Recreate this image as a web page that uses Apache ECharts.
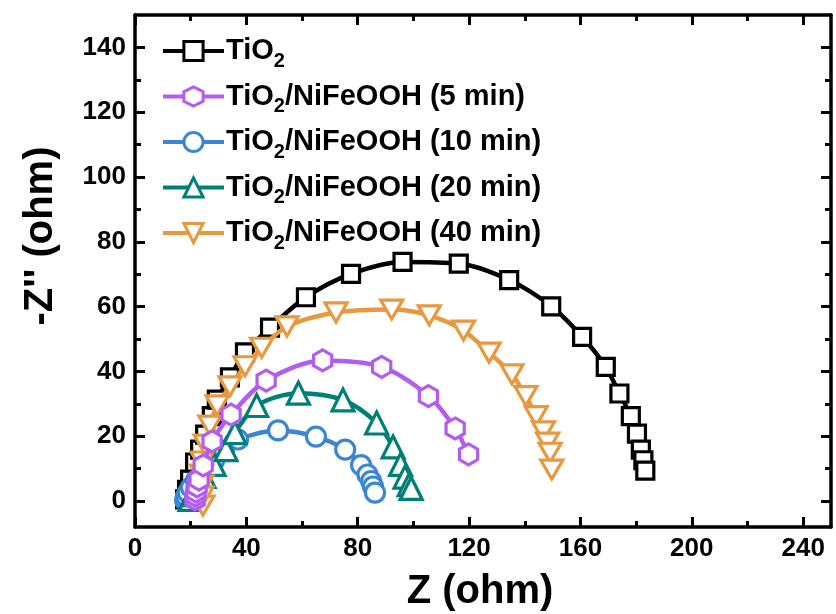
<!DOCTYPE html>
<html>
<head>
<meta charset="utf-8">
<script src="https://cdn.jsdelivr.net/npm/echarts@6/dist/echarts.min.js"></script>
<style>html,body{margin:0;padding:0;background:#fff}#c{width:836px;height:614px}</style>
</head>
<body>
<div id="c"></div>
<script>
const seriesNames = ['TiO2', 'TiO2/NiFeOOH (5 min)', 'TiO2/NiFeOOH (10 min)', 'TiO2/NiFeOOH (20 min)', 'TiO2/NiFeOOH (40 min)'];
const seriesColors = ['#000000', '#b35cf2', '#3a86d4', '#007f78', '#e8983e'];

const tio2 = [[18.0,0.5],[18.7,3.5],[19.8,6.6],[21.6,11.9],[23.4,15.9],[25.2,20.5],[27.6,26.2],[29.4,31.3],[34.1,38.2],[39.5,45.9],[48.5,53.5],[61.4,62.9],[77.6,70.1],[96.1,73.8],[116.3,73.3],[134.4,68.2],[149.5,60.1],[160.6,50.7],[169.1,41.4],[174.0,33.2],[178.1,26.2],[180.3,20.8],[181.7,15.9],[182.6,12.6],[183.3,9.4]];
const nife5 = [[21.6,0.5],[21.7,1.7],[21.9,2.9],[22.3,4.5],[23.0,6.6],[24.5,11.0],[27.7,18.4],[34.5,26.7],[47.1,37.2],[67.4,43.4],[88.6,41.4],[105.4,32.4],[115.0,22.4],[119.8,14.4]];
const nife10 = [[18.0,0.2],[18.3,1.4],[19.0,2.6],[20.1,4.2],[21.9,6.3],[24.8,9.4],[28.4,12.5],[32.0,15.6],[37.0,19.0],[51.4,21.8],[65.0,19.9],[75.5,15.9],[81.2,11.1],[83.5,8.2],[84.8,6.2],[85.5,4.5],[86.2,2.6]];
const nife20 = [[19.8,0.5],[20.8,2.0],[22.3,4.2],[24.8,7.6],[28.4,11.3],[32.7,15.9],[35.9,21.1],[43.7,29.5],[58.7,33.3],[74.7,31.2],[86.8,24.1],[92.7,16.7],[95.4,11.3],[97.0,7.4],[98.5,5.1],[99.2,3.9]];
const nife40 = [[24.4,-1.4],[24.1,1.4],[24.0,4.8],[23.9,8.2],[24.1,12.2],[25.2,17.4],[26.9,23.3],[29.5,29.5],[34.1,35.4],[39.5,41.6],[45.5,47.3],[54.6,53.9],[72.2,58.2],[92.2,59.1],[105.7,57.3],[118.0,52.6],[127.2,45.8],[135.4,39.1],[140.4,32.4],[144.1,26.2],[146.7,21.5],[148.2,18.0],[149.1,14.9],[149.7,9.7]];

const xMajor = [0, 40, 80, 120, 160, 200, 240];
const xMinor = [20, 60, 100, 140, 180, 220];
const yMajor = [0, 20, 40, 60, 80, 100, 120, 140];
const yMinor = [10, 30, 50, 70, 90, 110, 130];
const xTitle = 'Z (ohm)';
const yTitle = "-Z'' (ohm)";

const HEX = 'path://M0,-1 L0.866,-0.5 L0.866,0.5 L0,1 L-0.866,0.5 L-0.866,-0.5 Z';
const DTRI = 'path://M-1,-0.866 L1,-0.866 L0,0.866 Z';
const symbols = ['rect', HEX, 'circle', 'triangle', DTRI];
const symSizes = [17, 21, 19, 22, 22];
const datasets = [tio2, nife5, nife10, nife20, nife40];
const zOrder = [2, 6, 3, 4, 5];

const FONT = '"Liberation Sans", Arial, sans-serif';
const AX = {color: '#000', width: 3.5};

function xAx(pos, vals, len, showLabel, showLine) {
  return {
    type: 'value', position: pos, min: 0, max: 250, gridIndex: 0,
    axisLine: {show: showLine, onZero: false, lineStyle: AX},
    axisTick: {show: true, inside: true, length: len, lineStyle: {color: '#000', width: 3}, customValues: vals},
    axisLabel: {show: showLabel, customValues: vals, color: '#000', fontFamily: FONT, fontWeight: 'bold', fontSize: 26, margin: 9},
    splitLine: {show: false}
  };
}
function yAx(pos, vals, len, showLabel, showLine) {
  return {
    type: 'value', position: pos, min: -8, max: 150, gridIndex: 0,
    axisLine: {show: showLine, onZero: false, lineStyle: AX},
    axisTick: {show: true, inside: true, length: len, lineStyle: {color: '#000', width: 3}, customValues: vals},
    axisLabel: {show: showLabel, customValues: vals, color: '#000', fontFamily: FONT, fontWeight: 'bold', fontSize: 26, margin: 9},
    splitLine: {show: false}
  };
}

const chart = echarts.init(document.getElementById('c'), null, {renderer: 'canvas'});
chart.setOption({
  backgroundColor: '#fff',
  animation: false,
  grid: {left: 135, right: 5, top: 15, bottom: 87, containLabel: false},
  xAxis: [
    xAx('bottom', xMajor, 10, true, true),
    xAx('bottom', xMinor, 6, false, false),
    xAx('top', xMajor, 10, false, true),
    xAx('top', xMinor, 6, false, false)
  ],
  yAxis: [
    yAx('left', yMajor, 10, true, true),
    yAx('left', yMinor, 6, false, false),
    yAx('right', yMajor, 10, false, true),
    yAx('right', yMinor, 6, false, false)
  ],
  legend: {
    orient: 'vertical', left: 156, top: 26, itemGap: 5.5,
    itemWidth: 61, itemHeight: 24,
    data: seriesNames,
    lineStyle: {width: 4},
    itemStyle: {borderWidth: 3},
    formatter: n => n.replace('TiO2', 'TiO{s|2}'),
    textStyle: {
      color: '#000', fontFamily: FONT, fontWeight: 'bold', fontSize: 29, lineHeight: 40, padding: [0, 0, 0, -3],
      rich: {s: {color: '#000', fontFamily: FONT, fontWeight: 'bold', fontSize: 20, lineHeight: 20, verticalAlign: 'bottom'}}
    }
  },
  graphic: [
    {type: 'text', x: 480, y: 592, style: {text: xTitle, fill: '#000', font: 'bold 40px ' + FONT, textAlign: 'center', textVerticalAlign: 'middle'}},
    {type: 'text', x: 41, y: 236, rotation: Math.PI / 2, style: {text: yTitle, fill: '#000', font: 'bold 40px ' + FONT, textAlign: 'center', textVerticalAlign: 'middle'}}
  ],
  series: seriesNames.map((name, i) => ({
    name: name, type: 'line', xAxisIndex: 0, yAxisIndex: 0,
    data: datasets[i], z: zOrder[i],
    smooth: 0.3,
    symbol: symbols[i], symbolSize: symSizes[i], symbolKeepAspect: true,
    showAllSymbol: true,
    color: seriesColors[i],
    lineStyle: {color: seriesColors[i], width: 4.5},
    itemStyle: {color: '#fff', borderColor: seriesColors[i], borderWidth: 3.2}
  }))
});
</script>
</body>
</html>
